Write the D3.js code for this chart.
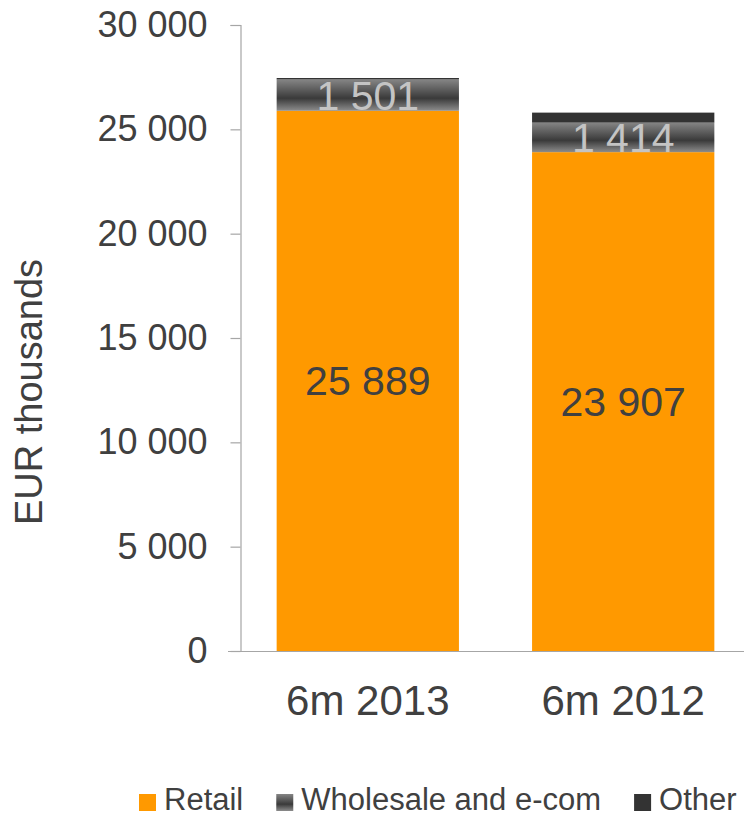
<!DOCTYPE html>
<html>
<head>
<meta charset="utf-8">
<script src="https://cdn.jsdelivr.net/npm/d3@7"></script>
<style>
  html, body { margin: 0; padding: 0; background: #ffffff; }
  svg { display: block; }
  text { font-family: "Liberation Sans", Arial, sans-serif; }
</style>
</head>
<body>
<svg id="chart" width="744" height="817"></svg>
<script>
const categories = ["6m 2013", "6m 2012"];
const retail = [25889, 23907];
const wholesale = [1501, 1414];
const other = [70, 480];
const seriesNames = ["Retail", "Wholesale and e-com", "Other"];
const yTicks = [0, 5000, 10000, 15000, 20000, 25000, 30000];
const yTitle = "EUR thousands";

const svg = d3.select("#chart");
const textColor = "#404040";
const axisColor = "#a6a6a6";
const orange = "#ff9900";
const otherColor = "#333333";

const defs = svg.append("defs");
const grad = defs.append("linearGradient")
  .attr("id", "wsGrad").attr("x1", 0).attr("y1", 0).attr("x2", 0).attr("y2", 1);
grad.append("stop").attr("offset", "0%").attr("stop-color", "#858585");
grad.append("stop").attr("offset", "60%").attr("stop-color", "#3a3a3a");
grad.append("stop").attr("offset", "100%").attr("stop-color", "#8c8c8c");

const y = d3.scaleLinear().domain([0, 30000]).range([651, 25]);
const x = d3.scaleBand().domain(categories).range([246, 745])
  .paddingInner(0.2863).paddingOuter(0.12);

// axes
const yAxis = d3.axisLeft(y).tickValues(yTicks).tickSize(10).tickPadding(23)
  .tickFormat(d => d3.format(",")(d).replace(/,/g, " "));
const gy = svg.append("g").attr("transform", "translate(240.5,0)").call(yAxis);
gy.select(".domain").attr("stroke", axisColor).attr("stroke-width", 1.2);
gy.selectAll(".tick line").attr("stroke", axisColor).attr("stroke-width", 1.2);
gy.selectAll(".tick text").attr("fill", textColor).attr("font-size", 36)
  .attr("font-family", "'Liberation Sans', Arial, sans-serif");

svg.append("line").attr("x1", 228).attr("x2", 744)
  .attr("y1", y(0) + 0.5).attr("y2", y(0) + 0.5)
  .attr("stroke", axisColor).attr("stroke-width", 1.2);

// stacked data
const rows = categories.map((c, i) => ({ cat: c, Retail: retail[i], Wholesale: wholesale[i], Other: other[i] }));
const stack = d3.stack().keys(["Retail", "Wholesale", "Other"])(rows);
const fills = [orange, "url(#wsGrad)", otherColor];

stack.forEach((layer, li) => {
  svg.append("g").selectAll("rect").data(layer).join("rect")
    .attr("x", d => x(d.data.cat))
    .attr("width", x.bandwidth())
    .attr("y", d => y(d[1]))
    .attr("height", d => y(d[0]) - y(d[1]))
    .attr("fill", fills[li]);
});

const fmt = v => d3.format(",")(v).replace(/,/g, " ");

// retail labels
svg.append("g").selectAll("text").data(stack[0]).join("text")
  .attr("x", d => x(d.data.cat) + x.bandwidth() / 2)
  .attr("y", d => (y(d[0]) + y(d[1])) / 2)
  .attr("dy", "0.35em")
  .attr("text-anchor", "middle")
  .attr("font-size", 41)
  .attr("fill", textColor)
  .text(d => fmt(d.data.Retail));

// wholesale labels (clipped to segment)
stack[1].forEach((d, i) => {
  const cid = "clipWs" + i;
  defs.append("clipPath").attr("id", cid).append("rect")
    .attr("x", x(d.data.cat)).attr("width", x.bandwidth())
    .attr("y", y(d[1])).attr("height", y(d[0]) - y(d[1]));
  svg.append("text")
    .attr("clip-path", `url(#${cid})`)
    .attr("x", x(d.data.cat) + x.bandwidth() / 2)
    .attr("y", (y(d[0]) + y(d[1])) / 2)
    .attr("dy", "0.36em")
    .attr("text-anchor", "middle")
    .attr("font-size", 41)
    .attr("fill", "#c4c4c4")
    .text(fmt(d.data.Wholesale));
});

// category labels
svg.append("g").selectAll("text").data(categories).join("text")
  .attr("x", d => x(d) + x.bandwidth() / 2)
  .attr("y", 715)
  .attr("text-anchor", "middle")
  .attr("font-size", 42)
  .attr("fill", textColor)
  .text(d => d);

// y title
svg.append("text")
  .attr("transform", "translate(42,392) rotate(-90)")
  .attr("text-anchor", "middle")
  .attr("font-size", 38)
  .attr("fill", textColor)
  .text(yTitle);

// legend
const legendFills = [orange, "url(#wsGrad)", otherColor];
let lx = 139;
seriesNames.forEach((name, i) => {
  const g = svg.append("g");
  g.append("rect").attr("x", lx).attr("y", 794).attr("width", 17).attr("height", 17)
    .attr("fill", legendFills[i]);
  const t = g.append("text").attr("x", lx + 25).attr("y", 810)
    .attr("font-size", 31).attr("fill", textColor).text(name);
  const w = t.node().getComputedTextLength();
  lx = lx + 25 + w + 33;
});
</script>
</body>
</html>
